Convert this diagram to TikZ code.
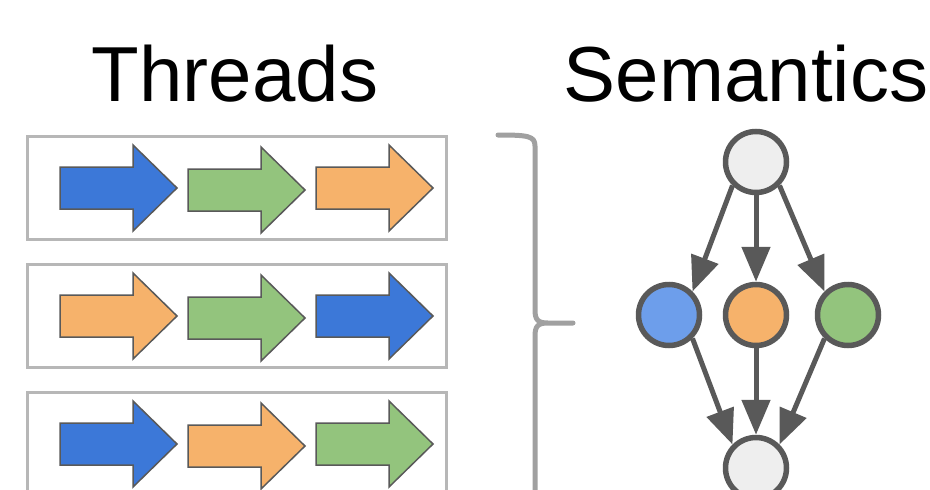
\documentclass[tikz,border=0pt]{standalone}
\usepackage{fontspec}
\setmainfont{Liberation Sans}
\usetikzlibrary{arrows.meta}

\definecolor{tblue}{HTML}{3C78D8}
\definecolor{tgreen}{HTML}{93C47D}
\definecolor{torange}{HTML}{F6B26B}
\definecolor{nblue}{HTML}{6D9EEB}
\definecolor{ngray}{HTML}{EEEEEE}
\definecolor{edgegray}{HTML}{595959}
\definecolor{boxgray}{HTML}{B7B7B7}
\definecolor{bracegray}{HTML}{A0A0A0}

\tikzset{
  title/.style={font=\fontsize{78}{90}\selectfont, inner sep=0pt, anchor=base},
  threadbox/.style={draw=boxgray, line width=3pt, minimum width=419pt,
    minimum height=103pt, inner sep=0pt},
  threadarrow/.pic={
    \draw[line width=1.5pt, draw=edgegray, fill=#1, line join=miter]
      (0,-21) -- (73,-21) -- (73,-43) -- (117,0) -- (73,43) -- (73,21)
      -- (0,21) -- cycle;
  },
  bracepath/.style={draw=bracegray, line width=5pt, line cap=round, line join=round},
  state/.style={circle, draw=edgegray, line width=5.5pt, minimum size=61pt, inner sep=0pt},
  flow/.style={draw=edgegray, line width=5pt,
    -{Triangle[length=35pt, width=28pt]}},
}

\begin{document}
\begin{tikzpicture}[x=1pt, y=-1pt]
  \useasboundingbox (0,0) rectangle (930,490);
  \clip (0,0) rectangle (930,490);

  % headings
  \node[title] (threadstitle) at (235,101) {Threads};
  \node[title] (semtitle) at (746,101) {Semantics};

  % thread rows
  \node[threadbox] (row1) at (236.5,187.5) {};
  \node[threadbox] (row2) at (236.5,315.5) {};
  \node[threadbox] (row3) at (236.5,443.5) {};

  \pic at (60,188) {threadarrow=tblue};
  \pic at (188,190) {threadarrow=tgreen};
  \pic at (316,188) {threadarrow=torange};

  \pic at (60,316) {threadarrow=torange};
  \pic at (188,318) {threadarrow=tgreen};
  \pic at (316,316) {threadarrow=tblue};

  \pic at (60,444) {threadarrow=tblue};
  \pic at (188,446) {threadarrow=torange};
  \pic at (316,444) {threadarrow=tgreen};

  % brace grouping the rows
  \draw[bracepath] (498,135) .. controls (528,135) and (535,136) .. (535,146)
    -- (535,310) .. controls (535,320) and (538,323) .. (548,323) -- (573,323)
    -- (548,323) .. controls (538,323) and (535,326) .. (535,336) -- (535,500);

  % dependency graph
  \node[state, fill=ngray] (top) at (756,162) {};
  \node[state, fill=nblue] (left) at (669,315) {};
  \node[state, fill=torange] (mid) at (756,315) {};
  \node[state, fill=tgreen] (right) at (848,315) {};
  \node[state, fill=ngray] (bot) at (756,468) {};

  \draw[flow] (top.-135) -- (left.45);
  \draw[flow] (top) -- (mid);
  \draw[flow] (top.-45) -- (right.135);
  \draw[flow] (left.-45) -- (bot.135);
  \draw[flow] (mid) -- (bot);
  \draw[flow] (right.-135) -- (bot.45);
\end{tikzpicture}
\end{document}
